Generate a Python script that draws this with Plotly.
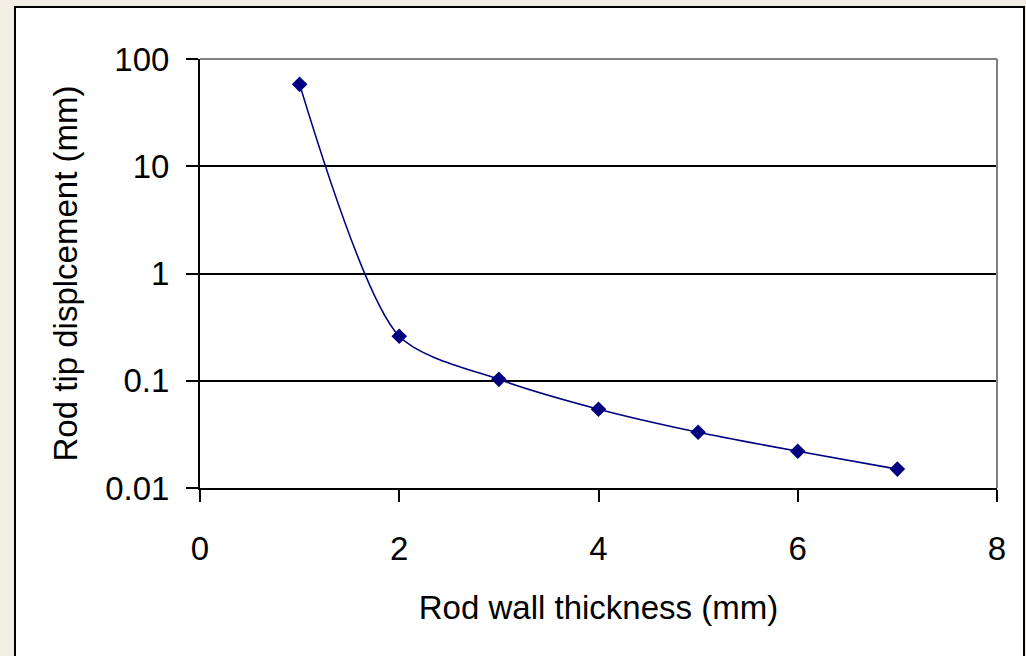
import plotly.graph_objects as go

thickness = [1, 2, 3, 4, 5, 6, 7]
displacement = [58.0, 0.26, 0.103, 0.0543, 0.0331, 0.0220, 0.0150]
y_tickvals = [0.01, 0.1, 1, 10, 100]
y_ticktext = ["0.01", "0.1", "1", "10", "100"]
x_tickvals = [0, 2, 4, 6, 8]

W, H = 1026, 656
L, R, T, B = 200, 1026 - 997, 59, 656 - 488
pw, ph = W - L - R, H - T - B

def px(xp):
    return (xp - L) / pw

def py(yp):
    return (H - B - yp) / ph

FONT = "Liberation Sans, Arial, sans-serif"

fig = go.Figure()
fig.add_trace(go.Scatter(
    x=thickness, y=displacement,
    mode="lines+markers",
    line=dict(color="#000080", width=1.6, shape="spline", smoothing=0.75),
    marker=dict(symbol="diamond", size=12, color="#000080"),
    showlegend=False,
))

shapes = [
    dict(type="rect", xref="paper", yref="paper",
         x0=px(15), x1=px(1024), y0=py(7), y1=py(670),
         fillcolor="white", line=dict(color="black", width=2), layer="below"),
    dict(type="line", xref="paper", yref="paper", x0=0, x1=1, y0=1, y1=1,
         line=dict(color="#808080", width=2), layer="above"),
    dict(type="line", xref="paper", yref="paper", x0=1, x1=1, y0=0, y1=1,
         line=dict(color="#808080", width=2), layer="above"),
]

fig.update_layout(
    width=W, height=H,
    margin=dict(l=L, r=R, t=T, b=B, autoexpand=False),
    paper_bgcolor="#f1eee5",
    plot_bgcolor="white",
    font=dict(family=FONT, size=33, color="black"),
    shapes=shapes,
    xaxis=dict(
        range=[0, 8], tickvals=x_tickvals,
        showgrid=False, zeroline=False,
        showline=True, linecolor="black", linewidth=2,
        ticks="outside", ticklen=12, tickwidth=2, tickcolor="black",
        ticklabelstandoff=18,
        tickfont=dict(size=33),
        title=dict(text="Rod wall thickness (mm)", font=dict(size=33), standoff=30),
    ),
    yaxis=dict(
        type="log", range=[-2, 2],
        tickvals=y_tickvals, ticktext=y_ticktext,
        showgrid=True, gridcolor="black", gridwidth=2,
        zeroline=False,
        showline=True, linecolor="black", linewidth=2,
        ticks="outside", ticklen=12, tickwidth=2, tickcolor="black",
        ticklabelstandoff=10,
        tickfont=dict(size=33),
        title=dict(text="Rod tip displcement (mm)", font=dict(size=33), standoff=18),
    ),
)

fig.write_html("out.html")
